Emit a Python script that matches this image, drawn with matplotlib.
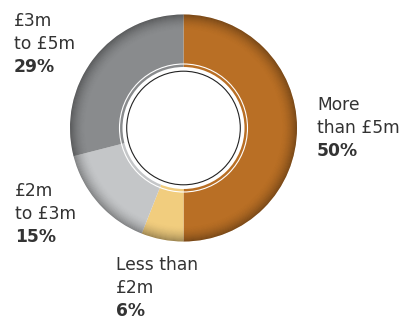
import matplotlib.pyplot as plt
from matplotlib.patches import Circle, Wedge

# data
labels = ["More\nthan £5m", "Less than\n£2m", "£2m\nto £3m", "£3m\nto £5m"]
shares = [50, 6, 15, 29]
colors = ["#b96f25", "#f1cd7e", "#c4c6c8", "#898b8d"]

plt.rcParams['font.family'] = ['DejaVu Sans']

fig = plt.figure(figsize=(4.15, 3.2), dpi=100)
ax = fig.add_axes([0, 0, 1, 1])

cx, cy = 183.5, 192
R = 113.5
ax.pie(shares, colors=colors, startangle=90, counterclock=False,
       center=(cx, cy), radius=R, wedgeprops=dict(linewidth=0))

# darken towards the outer edge
n = 16
for i in range(n):
    a = 0.34 * (1 - i / n) ** 2
    ax.add_patch(Wedge((cx, cy), R - i, 0, 360, width=1.0,
                       facecolor="black", alpha=a, linewidth=0))

# inner hole with rings
ax.add_patch(Circle((cx, cy), 64, fill=False, edgecolor="white", lw=0.8))
ax.add_patch(Circle((cx, cy), 61, facecolor="white", edgecolor="none"))
ax.add_patch(Circle((cx, cy), 56.8, facecolor="white", edgecolor="#222222", lw=0.8))

# labels: (x, y of top line) in pixel coords from top-left
label_pos = [(317, 96), (116, 256), (15, 182), (14, 12)]
line_h = 22.8
fs = 12.3
for lab, val, (x, y) in zip(labels, shares, label_pos):
    lines = lab.split("\n")
    for k, ln in enumerate(lines):
        ax.text(x, 320 - y - k * line_h, ln, fontsize=fs, color="#333333",
                va='top', ha='left')
    ax.text(x, 320 - y - len(lines) * line_h, f"{val}%", fontsize=fs,
            color="#333333", va='top', ha='left', fontweight='bold')

ax.set_xlim(0, 415)
ax.set_ylim(0, 320)
ax.set_aspect('equal')
ax.axis('off')

fig.savefig("out.png", dpi=100)
